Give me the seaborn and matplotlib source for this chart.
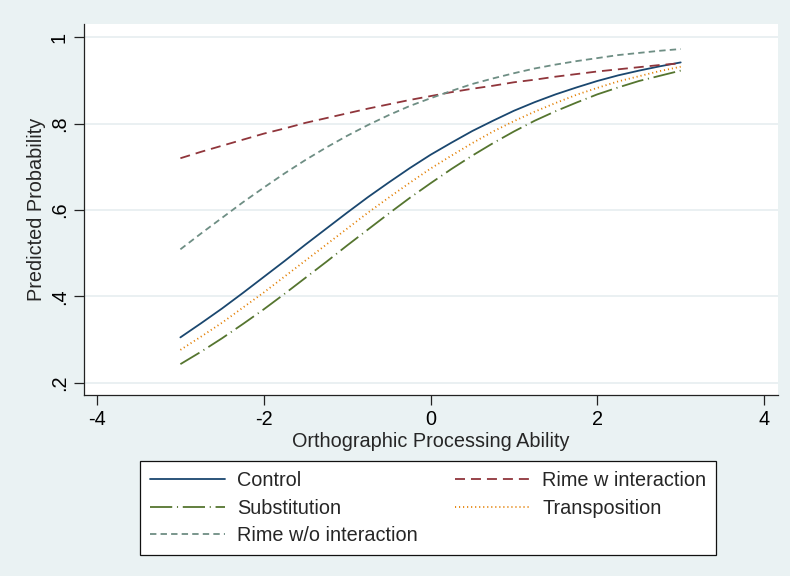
import numpy as np
import pandas as pd
import matplotlib
matplotlib.use("Agg")
import matplotlib.pyplot as plt
import seaborn as sns

# Predicted probabilities across orthographic processing ability
ability = [-3.0, -2.75, -2.5, -2.25, -2.0, -1.75, -1.5, -1.25, -1.0, -0.75, -0.5, -0.25,
           0.0, 0.25, 0.5, 0.75, 1.0, 1.25, 1.5, 1.75, 2.0, 2.25, 2.5, 2.75, 3.0]
control = [0.305, 0.338, 0.372, 0.408, 0.445, 0.482, 0.520, 0.557, 0.594, 0.630, 0.664, 0.697,
           0.728, 0.756, 0.783, 0.807, 0.830, 0.850, 0.868, 0.884, 0.899, 0.912, 0.923, 0.933, 0.942]
rime_w = [0.720, 0.735, 0.749, 0.763, 0.777, 0.789, 0.802, 0.813, 0.824, 0.835, 0.845, 0.855,
          0.864, 0.873, 0.881, 0.888, 0.896, 0.902, 0.909, 0.915, 0.921, 0.926, 0.931, 0.936, 0.940]
substitution = [0.243, 0.272, 0.303, 0.336, 0.370, 0.406, 0.443, 0.480, 0.518, 0.555, 0.592, 0.628,
                0.662, 0.695, 0.726, 0.755, 0.782, 0.807, 0.829, 0.849, 0.868, 0.884, 0.899, 0.911, 0.923]
transposition = [0.276, 0.307, 0.339, 0.374, 0.409, 0.446, 0.483, 0.520, 0.557, 0.594, 0.629, 0.663,
                 0.696, 0.726, 0.755, 0.782, 0.806, 0.828, 0.848, 0.867, 0.883, 0.898, 0.910, 0.922, 0.932]
rime_wo = [0.509, 0.546, 0.582, 0.618, 0.652, 0.685, 0.716, 0.745, 0.772, 0.797, 0.820, 0.841,
           0.859, 0.876, 0.892, 0.905, 0.917, 0.928, 0.937, 0.945, 0.952, 0.959, 0.964, 0.969, 0.973]

x_ticks = [-4, -2, 0, 2, 4]
x_tick_labels = ["-4", "-2", "0", "2", "4"]
y_ticks = [0.2, 0.4, 0.6, 0.8, 1.0]
y_tick_labels = [".2", ".4", ".6", ".8", "1"]

series = {
    "Control": control,
    "Rime w interaction": rime_w,
    "Substitution": substitution,
    "Transposition": transposition,
    "Rime w/o interaction": rime_wo,
}
colors = {
    "Control": "#1a476f",
    "Rime w interaction": "#90353b",
    "Substitution": "#55752f",
    "Transposition": "#e37e00",
    "Rime w/o interaction": "#6e8e84",
}
dash_styles = {
    "Control": None,
    "Rime w interaction": (7.2, 4.3),
    "Substitution": (16.0, 3.4, 0.8, 3.4),
    "Transposition": (0.8, 2.1),
    "Rime w/o interaction": (4.6, 3.0),
}

sns.set_style("white")
plt.rcParams["font.family"] = ["Liberation Sans", "DejaVu Sans"]
plt.rcParams["lines.scale_dashes"] = False

FS = 14.3
bg = "#eaf2f3"
fig = plt.figure(figsize=(7.9, 5.76), dpi=100, facecolor=bg)
ax = fig.add_axes([84 / 790, 1 - 395 / 576, (778 - 84) / 790, (395 - 24) / 576])
ax.set_facecolor("white")

df = pd.DataFrame({"ability": ability, **series})
lines = {}
for name in series:
    sns.lineplot(data=df, x="ability", y=name, ax=ax, color=colors[name],
                 linewidth=1.3, label=name, legend=False)
    ln = ax.get_lines()[-1]
    if dash_styles[name] is not None:
        ln.set_dashes(dash_styles[name])
    lines[name] = ln

ax.set_xlim(-4.156, 4.167)
ax.set_ylim(0.1715, 1.031)

ax.set_xticks(x_ticks)
ax.set_xticklabels(x_tick_labels)
ax.set_yticks(y_ticks)
ax.set_yticklabels(y_tick_labels, rotation=90, va="center")
ax.tick_params(axis="both", direction="out", length=7, width=0.9, color="#222222",
               labelsize=FS, labelcolor="black", pad=4)
ax.tick_params(axis="both", which="both", bottom=True, left=True)

ax.grid(axis="y", color="#e6eef0", linewidth=1.2)
ax.grid(axis="x", visible=False)
ax.set_axisbelow(True)
for side in ["top", "right"]:
    ax.spines[side].set_visible(False)
for side in ["left", "bottom"]:
    ax.spines[side].set_color("#222222")
    ax.spines[side].set_linewidth(0.9)

ax.set_xlabel("Orthographic Processing Ability", fontsize=FS, labelpad=2)
ax.set_ylabel("Predicted Probability", fontsize=FS, labelpad=3)

order = ["Control", "Substitution", "Rime w/o interaction",
         "Rime w interaction", "Transposition"]
leg = fig.legend([lines[n] for n in order], order, ncol=2,
                 loc="upper left", bbox_to_anchor=(140 / 790, 1 - 461 / 576),
                 frameon=True, fancybox=False, framealpha=1.0, fontsize=FS,
                 handlelength=3.77, handletextpad=0.62, columnspacing=1.86,
                 labelspacing=0.44, borderpad=0.5, borderaxespad=0)
frame = leg.get_frame()
frame.set_edgecolor("#111111")
frame.set_linewidth(0.9)
frame.set_facecolor("white")

fig.savefig("out.png", dpi=100, facecolor=bg)
